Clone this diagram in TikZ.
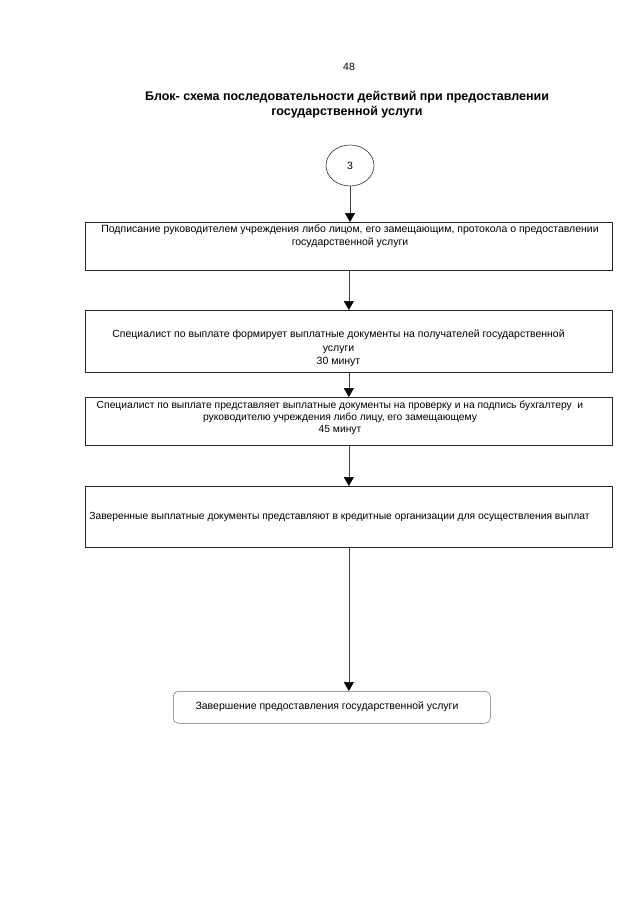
\documentclass[tikz,border=0pt]{standalone}
\usepackage{fontspec}
\setmainfont{Liberation Sans}
\usetikzlibrary{arrows.meta,shapes.geometric}
\begin{document}
\begin{tikzpicture}[x=1pt,y=-1pt,
  box/.style={draw=black!85,line width=0.7pt,rectangle,inner sep=0pt,anchor=north west},
  txt/.style={align=center,font=\fontsize{10.5}{13.5}\selectfont,inner sep=0pt},
  arr/.style={draw=black!75,line width=0.6pt,-{Triangle[width=10pt,length=9pt,color=black]}}]
\useasboundingbox[fill=white] (0,0) rectangle (640,905);
\node[font=\fontsize{10.5}{12}\selectfont,inner sep=0pt] (page) at (349,67) {48};
\node[font=\bfseries\fontsize{12.5}{15}\selectfont,align=center,inner sep=0pt] (title) at (347,104.5)
  {Блок- схема последовательности действий при предоставлении\\государственной услуги};
\node[draw=black!80,line width=0.6pt,ellipse,minimum width=48pt,minimum height=41pt,inner sep=0pt,
  font=\fontsize{10.5}{12}\selectfont] (c3) at (350,165.5) {3};
% boxes
\node[box,minimum width=527pt,minimum height=48pt] (b1) at (85,222) {};
\node[box,minimum width=527pt,minimum height=62pt] (b2) at (85,310) {};
\node[box,minimum width=527pt,minimum height=48pt] (b3) at (85,397) {};
\node[box,minimum width=527pt,minimum height=61pt] (b4) at (85,486) {};
\node[draw=black!55,line width=0.5pt,rounded corners=5pt,anchor=north west,inner sep=0pt,
  minimum width=317pt,minimum height=32pt] (e) at (173,691) {};
% texts
\node[txt] (t1) at (350,236) {Подписание руководителем учреждения либо лицом, его замещающим, протокола о предоставлении\\государственной услуги};
\node[txt] (t2) at (338.5,348.5) {Специалист по выплате формирует выплатные документы на получателей государственной\\услуги\\30 минут};
\node[txt,font=\fontsize{10.3}{12}\selectfont] (t3) at (340,417.5) {Специалист по выплате представляет выплатные документы на проверку и на подпись бухгалтеру\ \ и\\руководителю учреждения либо лицу, его замещающему\\45 минут};
\node[txt,font=\fontsize{10.3}{13}\selectfont] (t4) at (339.5,517) {Заверенные выплатные документы представляют в кредитные организации для осуществления выплат};
\node[txt] (te) at (327,707) {Завершение предоставления государственной услуги};
% connectors
\draw[arr] (c3.south) -- (c3.south |- b1.north);
\draw[arr] (b1.south) -- (b2.north);
\draw[arr] (b2.south) -- (b3.north);
\draw[arr] (b3.south) -- (b4.north);
\draw[arr] (b4.south) -- (b4.south |- e.north);
\end{tikzpicture}
\end{document}
